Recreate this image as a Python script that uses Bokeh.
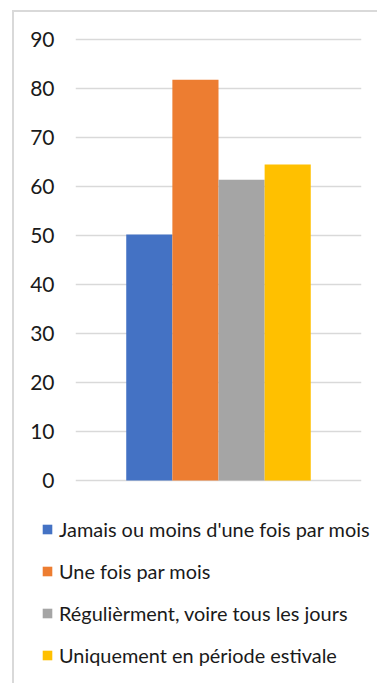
from bokeh.plotting import figure
from bokeh.layouts import column
from bokeh.models import (FactorRange, Range1d, Legend, LegendItem,
                          FixedTicker, ColumnDataSource)
from bokeh.embed import file_html
from bokeh.resources import INLINE

series = ["Jamais ou moins d'une fois par mois",
          "Une fois par mois",
          "Régulièrment, voire tous les jours",
          "Uniquement en période estivale"]
values = [50.2, 81.8, 61.4, 64.5]
colors = ["#4472C4", "#ED7D31", "#A5A5A5", "#FFC000"]
y_ticks = [0, 10, 20, 30, 40, 50, 60, 70, 80, 90]

FONT = "Lato"
TEXT = "#1a1a1a"

# ---- chart ----
p = figure(width=363, height=490,
           x_range=FactorRange(factors=series, range_padding=1.1,
                               range_padding_units="absolute"),
           y_range=Range1d(-0.4, 90.4),
           output_backend="svg", toolbar_location=None,
           min_border_left=61, min_border_right=16,
           min_border_top=25, min_border_bottom=20)
p.frame_align = False

p.outline_line_color = None
p.background_fill_color = "white"
p.border_fill_color = "white"

p.xaxis.visible = False
p.xgrid.grid_line_color = None

p.yaxis.ticker = FixedTicker(ticks=y_ticks)
p.yaxis.axis_line_color = None
p.yaxis.major_tick_line_color = None
p.yaxis.minor_tick_line_color = None
p.yaxis.major_tick_out = 0
p.yaxis.major_tick_in = 0
p.yaxis.major_label_standoff = 21
p.yaxis.major_label_text_font = FONT
p.yaxis.major_label_text_font_size = "21px"
p.yaxis.major_label_text_color = TEXT

p.ygrid.ticker = FixedTicker(ticks=y_ticks)
p.ygrid.grid_line_color = "#d9d9d9"
p.ygrid.grid_line_width = 1.5

for s, v, c in zip(series, values, colors):
    src = ColumnDataSource(dict(x=[s], top=[v]))
    p.vbar(x="x", top="top", bottom=0, width=1.0, source=src,
           fill_color=c, line_color=None)

# ---- legend panel ----
p2 = figure(width=363, height=181, x_range=Range1d(0, 1), y_range=Range1d(0, 1),
            output_backend="svg", toolbar_location=None,
            min_border_left=0, min_border_right=0,
            min_border_top=0, min_border_bottom=0)
p2.frame_align = False
p2.axis.visible = False
p2.grid.grid_line_color = None
p2.outline_line_color = None

nan = float("nan")
items = []
for s, c in zip(series, colors):
    r = p2.vbar(x=[nan], top=[nan], width=1.0, fill_color=c, line_color=None)
    items.append(LegendItem(label=s, renderers=[r]))

legend = Legend(items=items, location=(27, 16),
                glyph_width=12, glyph_height=12, label_standoff=6,
                label_text_font=FONT, label_text_font_size="19.9px",
                label_text_color=TEXT, label_height=24, spacing=18,
                padding=0, margin=0, border_line_color=None,
                background_fill_alpha=0)
p2.add_layout(legend)

layout = column(p, p2, spacing=0)
layout.margin = (10, 0, 0, 12)
layout.styles = {"border-left": "2px solid #d9d9d9",
                 "border-top": "2px solid #d9d9d9"}

open("out.html", "w").write(file_html(layout, INLINE))
